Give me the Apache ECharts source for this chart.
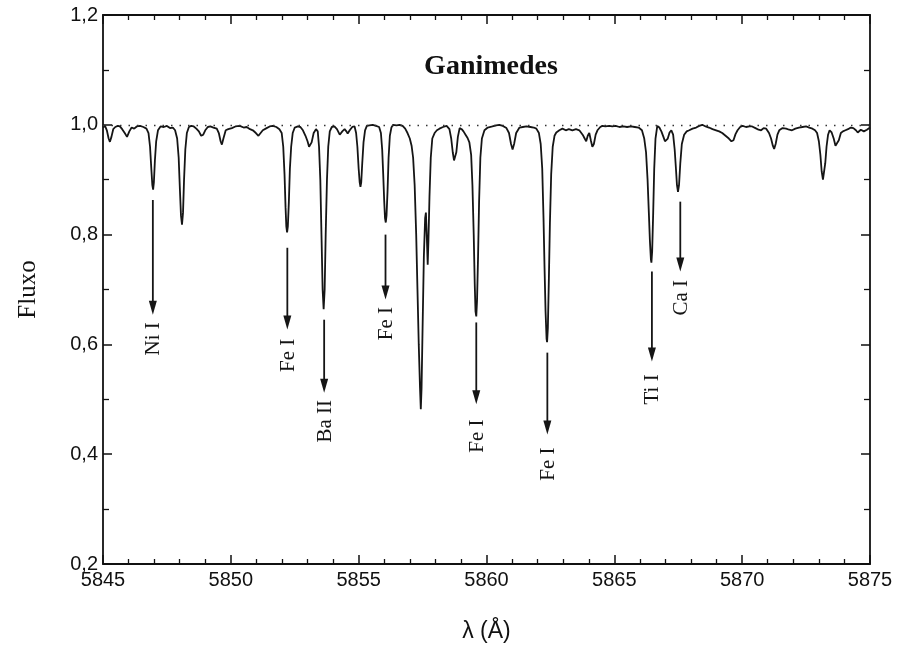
<!DOCTYPE html>
<html>
<head>
<meta charset="utf-8">
<script src="https://cdn.jsdelivr.net/npm/echarts@6/dist/echarts.min.js"></script>
<style>html,body{margin:0;padding:0;background:#fff}#c{width:898px;height:652px}</style>
</head>
<body>
<div id="c"></div>
<script>
// Wavelength (Å) and normalized flux
const wavelength = [
5845.00,5845.08,5845.15,5845.22,5845.27,5845.33,5845.40,5845.48,5845.58,5845.66,5845.75,5845.85,5845.94,5846.03,5846.12,5846.22,5846.32,5846.45,5846.58,5846.70,
5846.78,5846.84,5846.89,5846.93,5846.96,5846.99,5847.03,5847.08,5847.15,5847.25,5847.38,5847.50,5847.62,5847.73,5847.82,5847.90,5847.96,5848.01,5848.05,5848.09,
5848.13,5848.17,5848.22,5848.28,5848.36,5848.45,5848.55,5848.65,5848.75,5848.84,5848.92,5849.00,5849.10,5849.20,5849.32,5849.45,5849.53,5849.60,5849.65,5849.71,
5849.80,5849.90,5850.04,5850.18,5850.35,5850.50,5850.62,5850.75,5850.86,5850.98,5851.08,5851.15,5851.25,5851.40,5851.52,5851.64,5851.78,5851.90,5851.99,5852.05,
5852.10,5852.14,5852.17,5852.20,5852.23,5852.27,5852.31,5852.36,5852.42,5852.50,5852.62,5852.72,5852.82,5852.92,5853.00,5853.06,5853.10,5853.16,5853.24,5853.33,
5853.40,5853.45,5853.50,5853.55,5853.59,5853.63,5853.67,5853.71,5853.76,5853.81,5853.87,5853.95,5854.05,5854.15,5854.26,5854.36,5854.45,5854.52,5854.57,5854.65,
5854.75,5854.84,5854.90,5854.95,5855.00,5855.04,5855.07,5855.10,5855.14,5855.19,5855.25,5855.32,5855.42,5855.55,5855.68,5855.80,5855.87,5855.92,5855.96,5856.00,
5856.03,5856.06,5856.09,5856.13,5856.17,5856.22,5856.28,5856.35,5856.48,5856.60,5856.72,5856.82,5856.91,5857.00,5857.07,5857.13,5857.19,5857.25,5857.30,5857.35,
5857.40,5857.43,5857.46,5857.50,5857.55,5857.60,5857.63,5857.67,5857.70,5857.73,5857.77,5857.82,5857.88,5857.97,5858.06,5858.16,5858.30,5858.44,5858.55,5858.62,
5858.68,5858.73,5858.77,5858.82,5858.88,5858.95,5859.03,5859.10,5859.18,5859.26,5859.33,5859.40,5859.45,5859.50,5859.54,5859.57,5859.60,5859.63,5859.67,5859.71,
5859.76,5859.82,5859.92,5860.05,5860.23,5860.38,5860.50,5860.64,5860.78,5860.88,5860.96,5861.02,5861.08,5861.16,5861.29,5861.42,5861.56,5861.72,5861.85,5861.95,
5862.05,5862.12,5862.18,5862.23,5862.27,5862.31,5862.35,5862.37,5862.40,5862.44,5862.48,5862.53,5862.59,5862.66,5862.73,5862.85,5862.97,5863.10,5863.22,5863.36,
5863.50,5863.63,5863.76,5863.84,5863.90,5863.96,5864.02,5864.08,5864.14,5864.20,5864.27,5864.34,5864.45,5864.53,5864.65,5864.80,5864.92,5865.05,5865.20,5865.35,
5865.50,5865.65,5865.80,5865.95,5866.08,5866.17,5866.24,5866.30,5866.35,5866.39,5866.43,5866.45,5866.48,5866.52,5866.56,5866.61,5866.68,5866.76,5866.84,5866.92,
5866.98,5867.03,5867.09,5867.16,5867.23,5867.30,5867.36,5867.41,5867.45,5867.49,5867.53,5867.58,5867.64,5867.73,5867.83,5867.93,5868.06,5868.20,5868.32,5868.44,
5868.57,5868.70,5868.84,5868.98,5869.10,5869.22,5869.35,5869.48,5869.58,5869.66,5869.74,5869.82,5869.92,5870.02,5870.15,5870.28,5870.39,5870.52,5870.64,5870.74,
5870.84,5870.94,5871.05,5871.13,5871.20,5871.25,5871.31,5871.38,5871.45,5871.58,5871.72,5871.84,5871.95,5872.08,5872.22,5872.36,5872.50,5872.62,5872.75,5872.85,
5872.93,5873.00,5873.06,5873.11,5873.16,5873.20,5873.25,5873.30,5873.36,5873.42,5873.50,5873.58,5873.65,5873.71,5873.78,5873.86,5873.94,5874.04,5874.14,5874.25,
5874.35,5874.45,5874.52,5874.58,5874.64,5874.70,5874.76,5874.82,5874.88,5874.94,5875.00
];
const fluxo = [
0.995,0.998,0.990,0.975,0.969,0.978,0.992,0.996,0.998,0.997,0.992,0.985,0.978,0.988,0.995,0.993,0.997,0.998,0.996,0.993,
0.985,0.960,0.920,0.890,0.882,0.895,0.935,0.970,0.990,0.997,0.996,0.998,0.994,0.995,0.990,0.975,0.940,0.880,0.835,0.818,
0.840,0.900,0.955,0.985,0.996,0.998,0.997,0.993,0.988,0.980,0.982,0.990,0.996,0.997,0.995,0.993,0.985,0.970,0.964,0.975,
0.990,0.992,0.994,0.997,0.998,0.995,0.996,0.992,0.990,0.985,0.980,0.982,0.990,0.994,0.997,0.998,0.996,0.992,0.985,0.960,
0.910,0.850,0.815,0.804,0.815,0.860,0.920,0.960,0.985,0.995,0.997,0.996,0.990,0.980,0.970,0.960,0.958,0.968,0.985,0.992,
0.988,0.960,0.900,0.790,0.700,0.664,0.700,0.800,0.900,0.960,0.988,0.996,0.997,0.992,0.982,0.988,0.992,0.988,0.984,0.990,
0.996,0.997,0.985,0.960,0.920,0.895,0.887,0.895,0.930,0.968,0.990,0.998,0.999,1.000,0.998,0.996,0.985,0.955,0.910,0.860,
0.830,0.822,0.835,0.880,0.940,0.980,0.995,1.000,0.999,1.000,0.998,0.993,0.985,0.975,0.962,0.940,0.890,0.800,0.700,0.600,
0.520,0.482,0.520,0.630,0.760,0.830,0.840,0.790,0.745,0.790,0.870,0.940,0.975,0.985,0.990,0.993,0.996,0.998,0.992,0.975,
0.950,0.935,0.933,0.950,0.978,0.994,0.992,0.988,0.982,0.976,0.968,0.945,0.890,0.800,0.710,0.660,0.651,0.680,0.760,0.860,
0.940,0.975,0.990,0.995,0.997,0.999,1.000,0.998,0.994,0.985,0.965,0.955,0.965,0.985,0.995,0.996,0.997,0.996,0.995,0.993,
0.985,0.965,0.920,0.830,0.740,0.660,0.610,0.604,0.630,0.720,0.820,0.910,0.960,0.980,0.986,0.990,0.993,0.990,0.992,0.990,
0.992,0.990,0.982,0.975,0.970,0.980,0.985,0.972,0.960,0.965,0.982,0.990,0.996,0.998,0.997,0.998,0.997,0.998,0.996,0.997,
0.996,0.997,0.996,0.995,0.990,0.975,0.950,0.900,0.840,0.790,0.755,0.749,0.770,0.840,0.920,0.975,0.998,0.995,0.988,0.978,
0.970,0.967,0.975,0.986,0.990,0.982,0.955,0.920,0.890,0.878,0.890,0.930,0.965,0.982,0.988,0.990,0.993,0.995,0.998,1.000,
0.997,0.995,0.992,0.990,0.988,0.985,0.980,0.975,0.970,0.972,0.983,0.990,0.996,0.998,0.996,0.997,0.997,0.994,0.991,0.990,
0.994,0.993,0.985,0.975,0.962,0.956,0.965,0.982,0.990,0.994,0.993,0.991,0.990,0.993,0.995,0.996,0.997,0.995,0.993,0.990,
0.985,0.970,0.945,0.915,0.900,0.902,0.930,0.960,0.982,0.990,0.986,0.975,0.962,0.960,0.972,0.985,0.988,0.990,0.992,0.995,
0.994,0.990,0.986,0.985,0.991,0.993,0.988,0.985,0.991,0.990,0.995
];
// Line identifications: label, wavelength, arrow start flux, arrow tip flux, label centre flux
const lineLabels   = ['Ni I', 'Fe I', 'Ba II', 'Fe I', 'Fe I', 'Fe I', 'Ti I', 'Ca I'];
const lineLambda   = [5846.95, 5852.21, 5853.65, 5856.05, 5859.60, 5862.38, 5866.47, 5867.58];
const arrowStart   = [0.863, 0.776, 0.645, 0.800, 0.640, 0.585, 0.733, 0.860];
const arrowTip     = [0.654, 0.627, 0.512, 0.682, 0.491, 0.436, 0.569, 0.733];
const labelCentre  = [0.610, 0.580, 0.460, 0.638, 0.433, 0.382, 0.518, 0.685];
// Axis ticks
const xTicks = [5845, 5850, 5855, 5860, 5865, 5870, 5875];
const yTicks = [0.2, 0.4, 0.6, 0.8, 1.0, 1.2];

const spectrum = wavelength.map((w, i) => [w, fluxo[i]]);
const arrows = lineLambda.map((w, i) => [w, arrowStart[i], arrowTip[i], labelCentre[i]]);

const chart = echarts.init(document.getElementById('c'), null, {renderer: 'canvas'});
const axisCommon = {
  axisLine: {show: true, lineStyle: {color: '#111', width: 1.8}},
  splitLine: {show: false},
};
const fmtComma = v => (Math.round(v * 10) / 10).toFixed(1).replace('.', ',');
chart.setOption({
  animation: false,
  backgroundColor: '#fff',
  title: {
    text: 'Ganimedes', left: 486, top: 48, textAlign: 'center',
    textStyle: {fontFamily: 'Liberation Serif', fontWeight: 'bold', fontSize: 28, color: '#111'}
  },
  grid: {left: 103, right: 28, top: 15, bottom: 88},
  xAxis: [{
    ...axisCommon, type: 'value', min: xTicks[0], max: xTicks[xTicks.length - 1], interval: 5,
    axisTick: {show: true, inside: true, length: 9, lineStyle: {color: '#111', width: 1.5}},
    minorTick: {show: true, splitNumber: 5, length: 5, lineStyle: {color: '#111', width: 1.3}},
    axisLabel: {color: '#111', fontFamily: 'Liberation Sans', fontSize: 20, margin: 6, formatter: v => String(v)},
    name: 'λ (Å)', nameLocation: 'middle', nameGap: 56,
    nameTextStyle: {fontFamily: 'Liberation Sans', fontSize: 23, color: '#111'}
  }, {
    ...axisCommon, type: 'value', position: 'top', min: xTicks[0], max: xTicks[xTicks.length - 1], interval: 5,
    axisTick: {show: true, inside: true, length: 9, lineStyle: {color: '#111', width: 1.5}},
    minorTick: {show: true, splitNumber: 5, length: 5, lineStyle: {color: '#111', width: 1.3}},
    axisLabel: {show: false}
  }],
  yAxis: [{
    ...axisCommon, type: 'value', min: yTicks[0], max: yTicks[yTicks.length - 1], interval: 0.2,
    axisTick: {show: true, inside: true, length: 9, lineStyle: {color: '#111', width: 1.5}},
    minorTick: {show: true, splitNumber: 2, length: 6, lineStyle: {color: '#111', width: 1.3}},
    axisLabel: {color: '#111', fontFamily: 'Liberation Sans', fontSize: 20, margin: 5, formatter: fmtComma},
    name: 'Fluxo', nameLocation: 'middle', nameGap: 62,
    nameTextStyle: {fontFamily: 'Liberation Serif', fontSize: 25, color: '#111'}
  }, {
    ...axisCommon, type: 'value', position: 'right', min: yTicks[0], max: yTicks[yTicks.length - 1], interval: 0.2,
    axisTick: {show: true, inside: true, length: 9, lineStyle: {color: '#111', width: 1.5}},
    minorTick: {show: true, splitNumber: 2, length: 6, lineStyle: {color: '#111', width: 1.3}},
    axisLabel: {show: false}
  }],
  series: [{
    type: 'line', data: spectrum, showSymbol: false, symbol: 'none',
    lineStyle: {color: '#151515', width: 1.8},
    markLine: {
      silent: true, symbol: 'none', label: {show: false},
      lineStyle: {color: '#333', width: 1.4, type: [1.5, 7]},
      data: [{yAxis: 1.0}]
    },
    z: 3
  }, {
    type: 'custom', data: arrows, z: 4,
    renderItem: (params, api) => {
      const x = api.value(0);
      const p1 = api.coord([x, api.value(1)]);
      const p2 = api.coord([x, api.value(2)]);
      const p3 = api.coord([x, api.value(3)]);
      return {
        type: 'group',
        children: [
          {type: 'line', shape: {x1: p1[0], y1: p1[1], x2: p2[0], y2: p2[1] - 8},
           style: {stroke: '#151515', lineWidth: 1.8}},
          {type: 'polygon', shape: {points: [[p2[0] - 4, p2[1] - 14], [p2[0] + 4, p2[1] - 14], [p2[0], p2[1]]]},
           style: {fill: '#151515'}},
          {type: 'text', x: p3[0] + 1, y: p3[1], rotation: Math.PI / 2,
           style: {text: lineLabels[params.dataIndex], font: '21px "Liberation Serif"', fill: '#151515',
                   align: 'center', verticalAlign: 'middle'}}
        ]
      };
    }
  }]
});
</script>
</body>
</html>
